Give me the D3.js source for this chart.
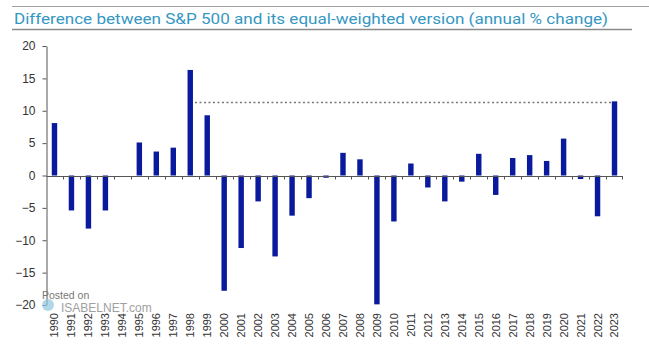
<!DOCTYPE html>
<html>
<head>
<meta charset="utf-8">
<script src="https://cdn.jsdelivr.net/npm/d3@7"></script>
<style>
  html, body { margin: 0; padding: 0; background: #fff; }
  svg { display: block; }
</style>
</head>
<body>
<div id="chart"></div>
<script>
const title = "Difference between S&P 500 and its equal-weighted version (annual % change)";
const years = ["1990","1991","1992","1993","1994","1995","1996","1997","1998","1999",
  "2000","2001","2002","2003","2004","2005","2006","2007","2008","2009",
  "2010","2011","2012","2013","2014","2015","2016","2017","2018","2019",
  "2020","2021","2022","2023"];
const values = [8.1, -5.4, -8.2, -5.4, 0, 5.1, 3.7, 4.3, 16.3, 9.3,
  -17.8, -11.2, -4.0, -12.5, -6.2, -3.5, -0.35, 3.5, 2.5, -19.9,
  -7.1, 1.85, -1.85, -4.0, -0.95, 3.35, -3.0, 2.7, 3.15, 2.25,
  5.7, -0.55, -6.3, 11.45];
const yTicks = [-20, -15, -10, -5, 0, 5, 10, 15, 20];
const refLevel = 11.4;
const refFrom = "1998", refTo = "2023";

const W = 649, H = 357;
const svg = d3.select("#chart").append("svg").attr("width", W).attr("height", H);

// frame lines
svg.append("line").attr("x1", 12).attr("x2", 649).attr("y1", 6.5).attr("y2", 6.5)
  .attr("stroke", "#a0a0a0").attr("stroke-width", 1.2);
svg.append("line").attr("x1", 12).attr("x2", 632).attr("y1", 29.5).attr("y2", 29.5)
  .attr("stroke", "#8a8a8a").attr("stroke-width", 1.5);

svg.append("text").attr("x", 14).attr("y", 24)
  .attr("font-family", "Roboto, 'Noto Sans', sans-serif").attr("font-size", 15.5)
  .attr("fill", "#3597c2")
  .attr("textLength", 594).attr("lengthAdjust", "spacingAndGlyphs")
  .text(title);

const x = d3.scaleBand().domain(years).range([46, 623]).paddingInner(0.68).paddingOuter(0.34);
const y = d3.scaleLinear().domain([-20, 20]).range([305, 46]);

// y axis
const yAxis = svg.append("g").attr("transform", "translate(46.5,0)")
  .call(d3.axisLeft(y).tickValues(yTicks).tickSize(4).tickPadding(7).tickSizeOuter(0));
yAxis.select(".domain").attr("stroke", "#555");
yAxis.selectAll(".tick line").attr("stroke", "#555");
yAxis.selectAll(".tick text").attr("font-family", "'Liberation Sans', Arial, sans-serif")
  .attr("font-size", 12).attr("fill", "#333");

// bars
svg.append("g").selectAll("rect").data(years).join("rect")
  .attr("x", d => x(d))
  .attr("width", x.bandwidth())
  .attr("y", (d, i) => y(Math.max(0, values[i])))
  .attr("height", (d, i) => Math.abs(y(values[i]) - y(0)))
  .attr("fill", "#0a1a9c");

// zero axis with ticks at band boundaries
const y0 = Math.round(y(0)) + 0.5;
svg.append("line").attr("x1", 46.5).attr("x2", 623).attr("y1", y0).attr("y2", y0)
  .attr("stroke", "#555");
const step = x.step();
svg.append("g").selectAll("line").data(years.slice(0, -1)).join("line")
  .attr("x1", d => Math.round(x(d) + x.bandwidth() / 2 + step / 2) + 0.5)
  .attr("x2", d => Math.round(x(d) + x.bandwidth() / 2 + step / 2) + 0.5)
  .attr("y1", y0).attr("y2", y0 + 3)
  .attr("stroke", "#555");
svg.append("line").attr("x1", 622.5).attr("x2", 622.5).attr("y1", y0).attr("y2", y0 + 3).attr("stroke", "#555");

// dotted reference line
svg.append("line")
  .attr("x1", x(refFrom) + x.bandwidth() + 2)
  .attr("x2", x(refTo))
  .attr("y1", Math.round(y(refLevel)) + 0.5).attr("y2", Math.round(y(refLevel)) + 0.5)
  .attr("stroke", "#777").attr("stroke-width", 1.4).attr("stroke-dasharray", "2,2.5");

// x labels
svg.append("g").selectAll("text").data(years).join("text")
  .attr("transform", d => `translate(${x(d) + x.bandwidth() / 2},313) rotate(-90)`)
  .attr("text-anchor", "end").attr("dy", "0.36em")
  .attr("font-family", "'Liberation Sans', Arial, sans-serif").attr("font-size", 11)
  .attr("fill", "#333")
  .text(d => d);

// watermark
svg.append("circle").attr("cx", 48).attr("cy", 305).attr("r", 6)
  .attr("fill", "#8fc7e0").attr("opacity", 0.7);
svg.append("text").attr("x", 42).attr("y", 299)
  .attr("font-family", "'Liberation Sans', Arial, sans-serif").attr("font-size", 10.5)
  .attr("fill", "#777").text("Posted on");
svg.append("text").attr("x", 61).attr("y", 312)
  .attr("font-family", "'Liberation Sans', Arial, sans-serif").attr("font-size", 12)
  .attr("fill", "#888").attr("opacity", 0.8).text("ISABELNET.com");
</script>
</body>
</html>
